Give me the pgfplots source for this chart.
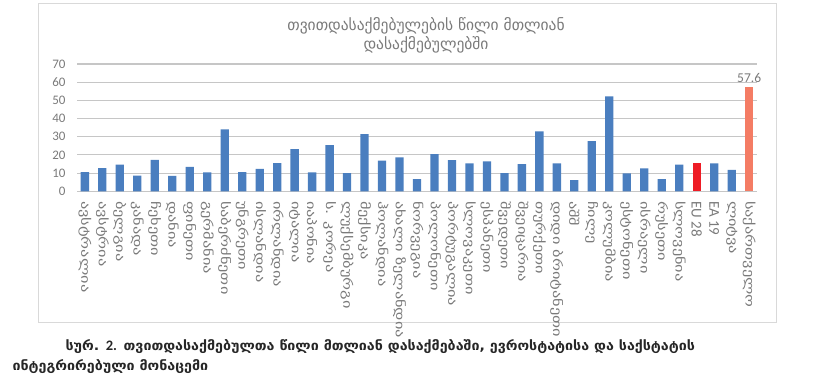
\documentclass[border=0pt]{standalone}
\usepackage{pgfplots}
\pgfplotsset{compat=1.18}
\usepackage{fontspec}
\setmainfont{Carlito}
\newfontfamily\geo{DejaVu Sans}
\newfontfamily\geowide[FakeStretch=1.36]{DejaVu Sans}
\newfontfamily\geocap[FakeStretch=1.08]{DejaVu Sans}
\definecolor{barblue}{HTML}{4A7EBF}
\definecolor{eured}{HTML}{EE1C25}
\definecolor{geosal}{HTML}{F47C64}
\definecolor{gridgray}{HTML}{C6C6C6}
\definecolor{txtgray}{HTML}{7A7A7A}
\newcommand\lat[1]{{\rmfamily\fontsize{15}{17}\selectfont #1}}
\begin{document}
\begin{tikzpicture}[x=1pt,y=1pt]
\path[use as bounding box] (0,0) rectangle (824,385);
\draw[black!15, line width=1pt] (38,381) rectangle (776,62);
\node[txtgray, font={\geo\fontsize{15.5}{19}\selectfont}, align=center] at (426,350) {თვითდასაქმებულების წილი მთლიან\\დასაქმებულებში};
\begin{axis}[
  at={(77pt,193.7pt)}, anchor=south west,
  scale only axis, width=680pt, height=127.3pt,
  ymin=0, ymax=70, xmin=-0.45, xmax=38.45,
  ybar, bar width=8.3pt, bar shift=0pt,
  ytick={0,10,...,70},
  ymajorgrids, grid style={gridgray, line width=1.1pt},
  axis line style={draw=none}, tick style={draw=none},
  yticklabel style={font={\fontsize{13}{15}\selectfont}, txtgray, xshift=-8pt},
  /pgf/number format/assume math mode=true,
  xtick={0,...,38},
  xticklabels={ავსტრალია,ავსტრია,ბელგია,კანადა,ჩეხეთი,დანია,ფინეთი,გერმანია,საბერძნეთი,უნგრეთი,ისლანდია,ირლანდია,იტალია,იაპონია,ს. კორეა,ლუქსემბურგი,მექსიკა,ჰოლანდია,ახალი ზელანდია,ნორვეგია,პოლონეთი,პორტუგალია,სლოვაკეთი,ესპანეთი,შვედეთი,შვეიცარია,თურქეთი,დიდი ბრიტანეთი,აშშ,ჩილე,კოლუმბია,ესტონეთი,ისრაელი,რუსეთი,სლოვენია,\lat{EU 28},\lat{EA 19},ლიტვა,საქართველო},
  xticklabel style={font={\geowide\fontsize{12}{14}\selectfont}, txtgray, rotate=-90, anchor=west, xshift=2pt},
]
\addplot[fill=barblue, draw=none] coordinates {
(0,10.5) (1,12.8) (2,14.6) (3,8.6) (4,17.3) (5,8.5) (6,13.4) (7,10.4) (8,34.1) (9,10.6)
(10,12.3) (11,15.5) (12,23.2) (13,10.4) (14,25.4) (15,10.0) (16,31.5) (17,16.8) (18,18.7) (19,6.7)
(20,20.5) (21,17.2) (22,15.3) (23,16.5) (24,10.0) (25,15.0) (26,33.0) (27,15.4) (28,6.2) (29,27.6)
(30,52.2) (31,9.9) (32,12.6) (33,6.7) (34,14.6) (36,15.3) (37,11.8)};
\addplot[fill=eured, draw=none] coordinates {(35,15.5)};
\addplot[fill=geosal, draw=none, nodes near coords, nodes near coords style={txtgray, font={\fontsize{13.5}{15}\selectfont}, /pgf/number format/fixed, /pgf/number format/precision=1, /pgf/number format/fixed zerofill}] coordinates {(38,57.6)};
\end{axis}
\node[anchor=west, font={\geocap\bfseries\fontsize{13.2}{16}\selectfont}, black!85] at (62,38) {სურ. {\rmfamily\bfseries\fontsize{14.5}{16}\selectfont 2.} თვითდასაქმებულთა წილი მთლიან დასაქმებაში, ევროსტატისა და საქსტატის};
\node[anchor=west, font={\geocap\bfseries\fontsize{13.2}{16}\selectfont}, black!85] at (9,18) {ინტეგრირებული მონაცემი};
\end{tikzpicture}
\end{document}
